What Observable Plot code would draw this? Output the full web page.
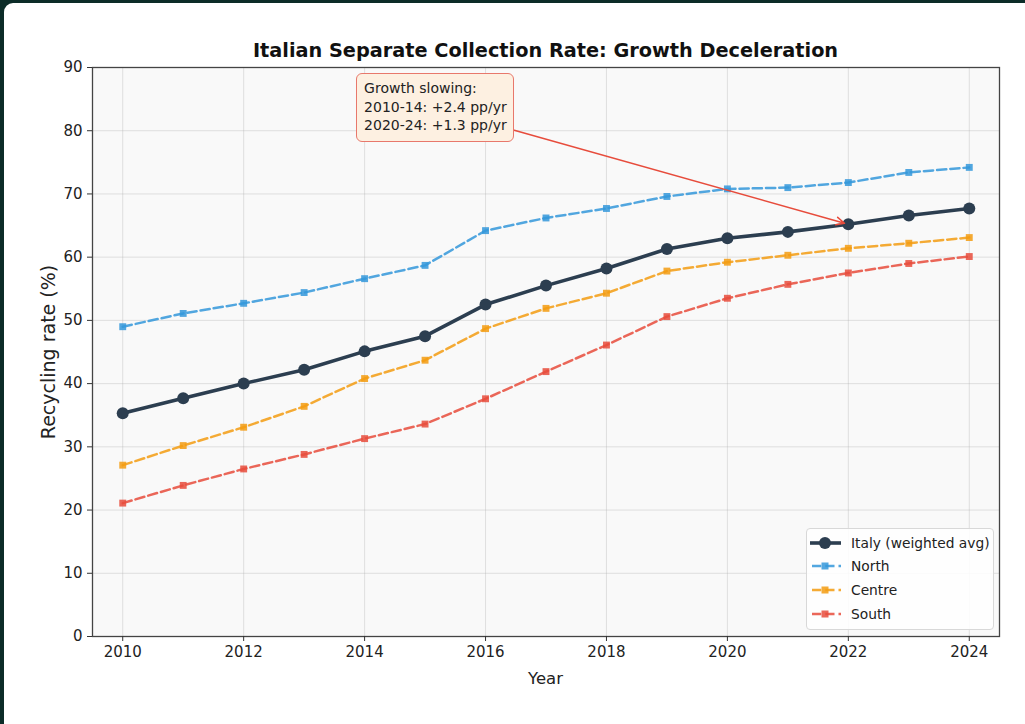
<!DOCTYPE html>
<html>
<head>
<meta charset="utf-8">
<script src="https://cdn.jsdelivr.net/npm/d3@7"></script>
<script src="https://cdn.jsdelivr.net/npm/@observablehq/plot@0.6"></script>
<style>
  html, body { margin: 0; padding: 0; width: 1025px; height: 724px; overflow: hidden; background: #0c2c28; }
  #card { position: absolute; left: 4px; top: 3px; width: 1040px; height: 740px; background: #ffffff; border-radius: 9px; }
  #wrap { position: absolute; left: 0; top: 0; width: 1025px; height: 724px; font-family: "DejaVu Sans", sans-serif; color: #222; }
  #chart { position: absolute; left: 0; top: 0; }
  .title { position: absolute; left: 92px; width: 907px; text-align: center; font-weight: bold; font-size: 19.3px; line-height: 20px; color: #111; white-space: nowrap; }
  .xlabel { position: absolute; left: 92px; width: 907px; text-align: center; font-size: 16.5px; color: #222; }
  .ylabel { position: absolute; font-size: 19px; color: #222; white-space: nowrap; transform: translate(-50%, -50%) rotate(-90deg); }
  .anno { position: absolute; background: #fdf0e1; border: 1.2px solid #e8786c; border-radius: 6px; padding: 5px 6px 6px 7px; font-size: 14px; line-height: 18.5px; color: #222; white-space: nowrap; z-index: 3; }
  .legend { position: absolute; background: rgba(255,255,255,0.85); border: 1px solid #d8d8d8; border-radius: 4px; z-index: 3; font-size: 13.8px; color: #222; }
  .legend .row { position: absolute; left: 0; height: 24px; display: flex; align-items: center; }
  .legend svg { margin-left: 2px; }
  .legend span { margin-left: 9px; white-space: nowrap; }
</style>
</head>
<body>
<div id="card"></div>
<div id="wrap">
  <div id="chart"></div>
</div>
<script>
// ---------- data ----------
const years   = [2010, 2011, 2012, 2013, 2014, 2015, 2016, 2017, 2018, 2019, 2020, 2021, 2022, 2023, 2024];
const italy   = [35.3, 37.7, 40.0, 42.2, 45.1, 47.5, 52.5, 55.5, 58.2, 61.3, 63.0, 64.0, 65.2, 66.6, 67.7];
const north   = [49.0, 51.1, 52.7, 54.4, 56.6, 58.7, 64.2, 66.2, 67.7, 69.6, 70.8, 71.0, 71.8, 73.4, 74.2];
const centre  = [27.1, 30.2, 33.1, 36.4, 40.8, 43.7, 48.7, 51.9, 54.3, 57.8, 59.2, 60.3, 61.4, 62.2, 63.1];
const south   = [21.1, 23.9, 26.5, 28.8, 31.3, 33.6, 37.6, 41.9, 46.1, 50.6, 53.5, 55.7, 57.5, 59.0, 60.1];

const seriesNames  = ["Italy (weighted avg)", "North", "Centre", "South"];
const seriesColors = ["#2c3e50", "#3498db", "#f39c12", "#e74c3c"];

const xTicks = [2010, 2012, 2014, 2016, 2018, 2020, 2022, 2024];
const yTicks = [0, 10, 20, 30, 40, 50, 60, 70, 80, 90];

const titleText  = "Italian Separate Collection Rate: Growth Deceleration";
const xLabelText = "Year";
const yLabelText = "Recycling rate (%)";

const annotationLines  = ["Growth slowing:", "2010-14: +2.4 pp/yr", "2020-24: +1.3 pp/yr"];
const annotationText   = { year: 2014, value: 80 };   // text anchor (data coords)
const annotationTarget = { year: 2022 };              // points at Italy's 2022 value

// ---------- tables ----------
const seriesValues = [italy, north, centre, south];
const tables = seriesValues.map((vals, k) =>
  years.map((yr, i) => ({ year: yr, value: vals[i], series: seriesNames[k] }))
);

const M = { top: 67, right: 26, bottom: 88, left: 92 };
const W = 1025, H = 724;

function build(extra) {
  const regionMarks = [];
  for (let k = 1; k < 4; k++) {
    regionMarks.push(
      Plot.line(tables[k], { x: "year", y: "value", stroke: seriesColors[k], strokeWidth: 2.5,
        strokeDasharray: "9.25,4", strokeOpacity: 0.85 }),
      Plot.dot(tables[k], { x: "year", y: "value", symbol: "square", r: 3.9, fill: seriesColors[k],
        fillOpacity: 0.85, stroke: null })
    );
  }
  return Plot.plot({
    width: W, height: H,
    marginTop: M.top, marginRight: M.right, marginBottom: M.bottom, marginLeft: M.left,
    style: { fontFamily: "'DejaVu Sans', sans-serif", fontSize: "15px", color: "#222", background: "transparent", overflow: "visible" },
    x: { domain: [2009.5, 2024.5], label: null },
    y: { domain: [0, 90], label: null },
    marks: [
      Plot.frame({ fill: "#f9f9f9", stroke: null }),
      Plot.gridX(xTicks, { stroke: "#b0b0b0", strokeOpacity: 0.35, strokeWidth: 1 }),
      Plot.gridY(yTicks, { stroke: "#b0b0b0", strokeOpacity: 0.35, strokeWidth: 1 }),
      ...regionMarks,
      Plot.line(tables[0], { x: "year", y: "value", stroke: seriesColors[0], strokeWidth: 3.6 }),
      Plot.dot(tables[0], { x: "year", y: "value", r: 6, fill: seriesColors[0], stroke: null }),
      ...(extra || []),
      Plot.frame({ stroke: "#444", strokeWidth: 1.3 }),
      Plot.axisX(xTicks, { tickSize: 5, tickPadding: 5, tickFormat: d => String(d), fontSize: 15, label: null, stroke: "#333" }),
      Plot.axisY(yTicks, { tickSize: 5, tickPadding: 5, tickFormat: d => String(d), fontSize: 15, label: null, stroke: "#333" })
    ]
  });
}

const wrap = document.getElementById("wrap");
const chart = document.getElementById("chart");

let plot = build([]);
const xs = plot.scale("x"), ys = plot.scale("y");

// title & axis labels
const title = document.createElement("div");
title.className = "title"; title.textContent = titleText;
title.style.top = (ys.apply(90) - 25.7) + "px";
wrap.appendChild(title);

const xl = document.createElement("div");
xl.className = "xlabel"; xl.textContent = xLabelText;
xl.style.top = (ys.apply(0) + 32.7) + "px";
wrap.appendChild(xl);

const yl = document.createElement("div");
yl.className = "ylabel"; yl.textContent = yLabelText;
yl.style.left = "48px";
yl.style.top = ((ys.apply(0) + ys.apply(90)) / 2) + "px";
wrap.appendChild(yl);

// annotation box
const anno = document.createElement("div");
anno.className = "anno";
anno.innerHTML = annotationLines.map(s => `<div>${s}</div>`).join("");
anno.style.left = (xs.apply(annotationText.year) - 8) + "px";
anno.style.top = (ys.apply(annotationText.value) - 57) + "px";
wrap.appendChild(anno);

const r = anno.getBoundingClientRect();
const cx = r.left + r.width / 2, cy = r.top + r.height / 2;
const tIdx = years.indexOf(annotationTarget.year);
const tx = xs.apply(annotationTarget.year), ty = ys.apply(italy[tIdx]);
// clip line center->target at box boundary
const dx = tx - cx, dy = ty - cy;
const t = Math.min((r.width / 2) / Math.abs(dx), (r.height / 2) / Math.abs(dy));
const sx = cx + dx * t, sy = cy + dy * t;
const arrowData = [{ x1: xs.invert(sx), y1: ys.invert(sy), x2: annotationTarget.year, y2: italy[tIdx] }];

plot = build([
  Plot.arrow(arrowData, { x1: "x1", y1: "y1", x2: "x2", y2: "y2", stroke: "#e74c3c", strokeWidth: 1.5,
    headLength: 9, headAngle: 50, insetEnd: 4 })
]);
chart.appendChild(plot);

// legend
const lg = document.createElement("div");
lg.className = "legend";
lg.style.left = "806px"; lg.style.top = "528px"; lg.style.width = "186px"; lg.style.height = "100px";
seriesNames.forEach((name, k) => {
  const row = document.createElement("div");
  row.className = "row";
  row.style.top = (1.5 + k * 23.8) + "px";
  const isItaly = k === 0;
  const marker = isItaly
    ? `<circle cx="16" cy="12" r="6" fill="${seriesColors[0]}"/>`
    : `<rect x="12.5" y="8.5" width="7" height="7" fill="${seriesColors[k]}" fill-opacity="0.85"/>`;
  const line = isItaly
    ? `<line x1="1" x2="32" y1="12" y2="12" stroke="${seriesColors[0]}" stroke-width="3.6"/>`
    : `<line x1="1" x2="32" y1="12" y2="12" stroke="${seriesColors[k]}" stroke-width="2.5" stroke-opacity="0.85" stroke-dasharray="9.25,4" stroke-dashoffset="-2"/>`;
  row.innerHTML = `<svg width="33" height="24">${line}${marker}</svg><span>${name}</span>`;
  lg.appendChild(row);
});
wrap.appendChild(lg);
</script>
</body>
</html>
